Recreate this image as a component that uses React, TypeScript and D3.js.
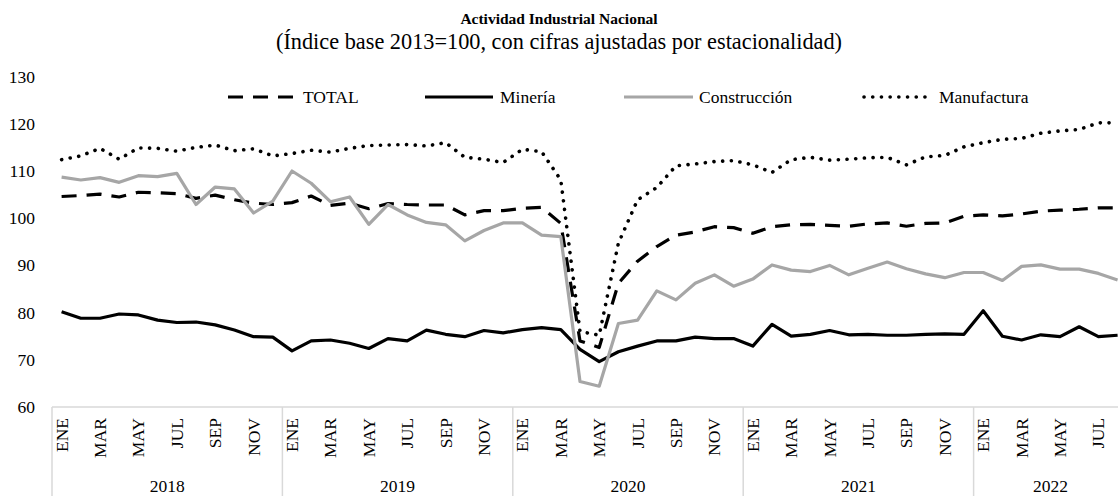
import React from "react";
import * as d3 from "d3";

const months = ["ENE","FEB","MAR","ABR","MAY","JUN","JUL","AGO","SEP","OCT","NOV","DIC"];
const years = ["2018","2019","2020","2021","2022"];
const monthsInLastYear = 8;

const total = [104.6,104.8,105.1,104.5,105.5,105.4,105.2,104.2,104.9,103.9,103.2,102.9,
  103.3,104.7,102.7,103.2,102.0,103.1,102.9,102.8,102.8,100.7,101.6,101.6,
  102.1,102.3,98.9,74.0,72.6,86.2,90.9,94.0,96.4,97.1,98.2,98.0,
  96.8,98.2,98.6,98.7,98.5,98.3,98.8,99.0,98.3,98.9,99.0,100.4,
  100.7,100.5,100.9,101.5,101.7,101.9,102.2,102.2];
const mineria = [80.2,78.8,78.8,79.7,79.5,78.4,77.9,78.0,77.4,76.3,74.9,74.8,
  71.9,74.0,74.2,73.5,72.4,74.5,74.0,76.3,75.4,74.9,76.2,75.7,
  76.4,76.8,76.4,72.2,69.6,71.7,72.9,74.0,74.0,74.8,74.5,74.5,
  72.9,77.5,75.0,75.4,76.2,75.3,75.4,75.2,75.2,75.4,75.5,75.4,
  80.4,75.0,74.2,75.3,74.9,77.0,74.9,75.2];
const construccion = [108.7,108.1,108.6,107.6,109.0,108.8,109.5,102.9,106.6,106.2,101.1,103.6,
  110.0,107.4,103.5,104.5,98.7,102.9,100.7,99.1,98.6,95.2,97.4,99.0,
  99.0,96.4,96.1,65.4,64.4,77.7,78.4,84.6,82.7,86.2,88.0,85.6,
  87.1,90.1,89.0,88.7,90.0,88.0,89.4,90.7,89.3,88.2,87.4,88.5,
  88.5,86.8,89.8,90.1,89.2,89.2,88.3,86.9];
const manufactura = [112.4,113.2,114.8,112.5,114.9,114.8,114.2,115.0,115.5,114.3,114.7,113.2,
  113.7,114.4,114.0,114.8,115.4,115.5,115.6,115.3,116.0,112.9,112.5,111.8,
  114.6,114.1,108.1,76.0,75.2,94.7,103.9,106.5,111.1,111.5,112.0,112.2,
  111.3,109.7,112.4,112.9,112.3,112.5,112.8,112.9,111.3,113.0,113.3,115.1,
  116.0,116.7,116.9,118.0,118.5,118.8,120.2,120.2];
const yTicks = [60,70,80,90,100,110,120,130];

const W = 1118, H = 496;
const FONT = "'Times New Roman', 'Liberation Serif', Times, serif";

export default function App() {
  const periods: { key: string; year: string; m: number }[] = [];
  years.forEach((y, yi) => {
    const n = yi === years.length - 1 ? monthsInLastYear : 12;
    for (let m = 0; m < n; m++) periods.push({ key: `${y}-${m}`, year: y, m });
  });
  const step = 19.2;
  const x0 = 52;
  const x = d3.scaleBand<string>().domain(periods.map(p => p.key)).range([x0, x0 + step * periods.length]).paddingInner(0).paddingOuter(0);
  const y = d3.scaleLinear().domain([60, 130]).range([407, 76.6]);
  const cx = (i: number) => (x(periods[i].key) as number) + x.bandwidth() / 2;
  const line = d3.line<number>().x((_, i) => cx(i)).y(v => y(v));

  const series = [
    { name: "TOTAL", data: total, color: "#000", dash: "15,10", cap: "butt", w: 3.2 },
    { name: "Minería", data: mineria, color: "#000", dash: "none", cap: "butt", w: 3.2 },
    { name: "Construcción", data: construccion, color: "#a6a6a6", dash: "none", cap: "butt", w: 3.2 },
    { name: "Manufactura", data: manufactura, color: "#000", dash: "0.1,8.6", cap: "round", w: 3.6 },
  ];
  const legendPos = [
    { x1: 228, x2: 297, tx: 303 },
    { x1: 425, x2: 493, tx: 500 },
    { x1: 624, x2: 693, tx: 699 },
    { x1: 864, x2: 933, tx: 939 },
  ];
  const legendY = 97;
  const axisColor = "#d9d9d9";
  const yearStarts = years.map(yr => periods.findIndex(p => p.year === yr));

  return (
    <svg width={W} height={H} style={{ position: "absolute", left: 0, top: 0, background: "#fff", fontFamily: FONT }}>
      <rect x={0} y={0} width={W} height={H} fill="#fff" />
      <text x={559} y={18} textAnchor="middle" dominantBaseline="central" fontSize={15.5} fontWeight="bold">Actividad Industrial Nacional</text>
      <text x={559} y={41} textAnchor="middle" dominantBaseline="central" fontSize={22.3}>(Índice base 2013=100, con cifras ajustadas por estacionalidad)</text>

      {yTicks.map(t => (
        <text key={t} x={35} y={y(t)} textAnchor="end" dominantBaseline="central" fontSize={17.5}>{t}</text>
      ))}

      <line x1={x0} x2={W} y1={407} y2={407} stroke={axisColor} strokeWidth={1.5} />
      {yearStarts.map((s, i) => (
        <line key={i} x1={x(periods[s].key)} x2={x(periods[s].key)} y1={407} y2={H} stroke={axisColor} strokeWidth={1.5} />
      ))}
      {periods.map((p, i) => p.m % 2 === 0 ? (
        <text key={p.key} transform={`translate(${cx(i)},418) rotate(-90)`} textAnchor="end" dominantBaseline="central" fontSize={17.5}>{months[p.m]}</text>
      ) : null)}
      {years.map((yr, yi) => {
        const idx = periods.map((p, i) => (p.year === yr ? i : -1)).filter(i => i >= 0);
        const a = x(periods[idx[0]].key) as number;
        const b = (x(periods[idx[idx.length - 1]].key) as number) + x.bandwidth();
        return <text key={yr} x={(a + b) / 2} y={485.5} textAnchor="middle" dominantBaseline="central" fontSize={17.5}>{yr}</text>;
      })}

      {series.map(s => (
        <path key={s.name} d={line(s.data) || ""} fill="none" stroke={s.color} strokeWidth={s.w}
          strokeDasharray={s.dash} strokeLinecap={s.cap as any} strokeLinejoin="round" />
      ))}

      {series.map((s, i) => (
        <g key={s.name}>
          <line x1={legendPos[i].x1} x2={legendPos[i].x2} y1={legendY} y2={legendY} stroke={s.color} strokeWidth={s.w}
            strokeDasharray={s.dash} strokeLinecap={s.cap as any} />
          <text x={legendPos[i].tx} y={legendY} dominantBaseline="central" fontSize={17.5}>{s.name}</text>
        </g>
      ))}
    </svg>
  );
}
